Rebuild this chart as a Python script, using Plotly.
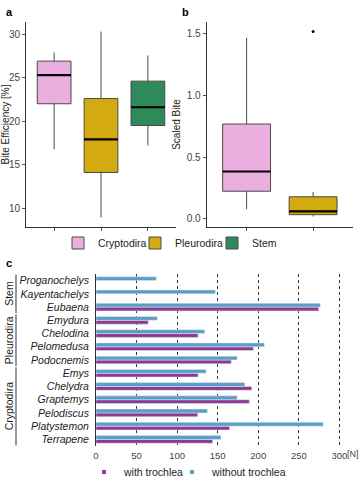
import plotly.graph_objects as go

# ---------------- data ----------------
groups = ["Cryptodira", "Pleurodira", "Stem"]
group_colors = ["#EAAEDF", "#D3AA10", "#2F8A59"]

# panel a: Bite Efficiency [%]
a_low = [16.75, 8.93, 17.2]
a_q1 = [22.0, 14.1, 19.5]
a_med = [25.3, 17.9, 21.6]
a_q3 = [26.9, 22.6, 24.6]
a_high = [27.9, 30.3, 27.55]

# panel b: Scaled Bite (Cryptodira, Pleurodira)
b_low = [0.08, 0.02]
b_q1 = [0.225, 0.035]
b_med = [0.385, 0.062]
b_q3 = [0.77, 0.18]
b_high = [1.47, 0.22]
b_outlier_group = [1]
b_outlier_value = [1.52]

# panel c: bite force [N]
taxa = ["Proganochelys", "Kayentachelys", "Eubaena",
        "Emydura", "Chelodina", "Pelomedusa", "Podocnemis",
        "Emys", "Chelydra", "Graptemys", "Pelodiscus", "Platystemon", "Terrapene"]
with_trochlea = [None, None, 274.5, 64.5, 125.8, 194, 166.7,
                 125.8, 192, 189, 125.4, 164.6, 143.8]
without_trochlea = [74.3, 147, 276.6, 75.6, 134, 207.5, 174,
                    135.6, 183.4, 174, 137.3, 280, 154]
clades = ["Stem", "Pleurodira", "Cryptodira"]
clade_sizes = [3, 4, 6]
x_ticks = [0, 50, 100, 150, 200, 250, 300]

FONT = "Liberation Sans, Arial, sans-serif"
W, H = 361, 480
PURPLE = "#8C3B90"
BLUE = "#5B9DC4"

fig = go.Figure()

def px_x(p):
    return p / W

def px_y(p):
    return 1 - p / H

# one legend box per entry so the entries can sit as close as in the reference
box_legends = ["legend", "legend3", "legend4"]
box_legend_x = [58, 135, 212]
bar_legends = ["legend2", "legend5"]
bar_legend_x = [84, 172]

# ---------- panel a ----------
for i, g in enumerate(groups):
    fig.add_trace(go.Box(
        x=[i], q1=[a_q1[i]], median=[a_med[i]], q3=[a_q3[i]],
        lowerfence=[a_low[i]], upperfence=[a_high[i]],
        width=0.72, fillcolor=group_colors[i],
        line=dict(color="#4a4a4a", width=1), whiskerwidth=0,
        name=g, showlegend=True, legend=box_legends[i],
        xaxis="x", yaxis="y", hoverinfo="skip"))
mx, my = [], []
for i, m in enumerate(a_med):
    mx += [i - 0.36, i + 0.36, None]
    my += [m, m, None]
fig.add_trace(go.Scatter(x=mx, y=my, mode="lines", line=dict(color="black", width=2.2),
                         showlegend=False, xaxis="x", yaxis="y", hoverinfo="skip"))

# ---------- panel b ----------
for i in range(2):
    fig.add_trace(go.Box(
        x=[i], q1=[b_q1[i]], median=[b_med[i]], q3=[b_q3[i]],
        lowerfence=[b_low[i]], upperfence=[b_high[i]],
        width=0.72, fillcolor=group_colors[i],
        line=dict(color="#4a4a4a", width=1), whiskerwidth=0,
        name=groups[i], showlegend=False,
        xaxis="x2", yaxis="y2", hoverinfo="skip"))
mx, my = [], []
for i, m in enumerate(b_med):
    mx += [i - 0.36, i + 0.36, None]
    my += [m, m, None]
fig.add_trace(go.Scatter(x=mx, y=my, mode="lines", line=dict(color="black", width=2.2),
                         showlegend=False, xaxis="x2", yaxis="y2", hoverinfo="skip"))
fig.add_trace(go.Scatter(x=b_outlier_group, y=b_outlier_value, mode="markers",
                         marker=dict(color="black", size=3), showlegend=False,
                         xaxis="x2", yaxis="y2", hoverinfo="skip"))

# ---------- panel c ----------
cat_order = list(reversed(taxa))
fig.add_trace(go.Bar(y=taxa, x=with_trochlea, orientation="h", name="with trochlea",
                     marker=dict(color=PURPLE), xaxis="x3", yaxis="y3", showlegend=False))
fig.add_trace(go.Bar(y=taxa, x=without_trochlea, orientation="h", name="without trochlea",
                     marker=dict(color=BLUE), xaxis="x3", yaxis="y3", showlegend=False))
for (nm, col), lg in zip([("with trochlea", PURPLE), ("without trochlea", BLUE)], bar_legends):
    fig.add_trace(go.Scatter(x=[None], y=[None], mode="markers", name=nm,
                             marker=dict(symbol="square", size=4, color=col),
                             xaxis="x3", yaxis="y3", legend=lg))

axis_common = dict(showline=True, linecolor="#333", linewidth=1, ticks="outside",
                   ticklen=3, tickcolor="#555", showgrid=False, zeroline=False,
                   tickfont=dict(size=10, color="#444", family=FONT))

layout_legends = {}
for lg, x in zip(box_legends, box_legend_x):
    layout_legends[lg] = dict(orientation="h", x=px_x(x), xanchor="left", y=px_y(243),
                              yanchor="middle", font=dict(size=10.5, color="#222"),
                              bgcolor="rgba(0,0,0,0)", itemwidth=30)
for lg, x in zip(bar_legends, bar_legend_x):
    layout_legends[lg] = dict(orientation="h", x=px_x(x), xanchor="left", y=px_y(472),
                              yanchor="middle", font=dict(size=10.5, color="#222"),
                              bgcolor="rgba(0,0,0,0)", itemwidth=30)

fig.update_layout(
    width=W, height=H, margin=dict(l=0, r=0, t=0, b=0, autoexpand=False),
    paper_bgcolor="white", plot_bgcolor="white",
    font=dict(family=FONT, size=10, color="#222"),
    barmode="group", bargap=0.42, bargroupgap=0,
    xaxis=dict(domain=[px_x(26), px_x(176)], anchor="y", range=[-0.6, 2.6],
               tickvals=[0, 1, 2], ticktext=["", "", ""], **axis_common),
    yaxis=dict(domain=[px_y(227), px_y(22)], anchor="x", range=[7.83, 31.4],
               tickvals=[10, 15, 20, 25, 30],
               title=dict(text="Bite Efficiency [%]", font=dict(size=10, color="#222"), standoff=4),
               **axis_common),
    xaxis2=dict(domain=[px_x(206.7), px_x(353)], anchor="y2", range=[-0.6, 1.6],
                tickvals=[0, 1], ticktext=["", ""], **axis_common),
    yaxis2=dict(domain=[px_y(227), px_y(22)], anchor="x2", range=[-0.065, 1.597],
                tickvals=[0, 0.5, 1.0, 1.5], tickformat=".1f",
                title=dict(text="Scaled Bite", font=dict(size=10, color="#222"), standoff=4),
                **axis_common),
    xaxis3=dict(domain=[px_x(96), px_x(354)], anchor="y3", range=[0, 318],
                tickvals=x_ticks, showgrid=True, gridcolor="#333", griddash="dot",
                gridwidth=1, showline=False, zeroline=False, ticks="",
                ticklabelstandoff=2,
                tickfont=dict(size=9.5, color="#444", family=FONT)),
    yaxis3=dict(domain=[px_y(446), px_y(274)], anchor="x3", type="category",
                categoryorder="array", categoryarray=cat_order,
                range=[-0.5, len(taxa) - 0.5],
                showline=True, linecolor="#333", linewidth=1, ticks="",
                ticklabelstandoff=4,
                tickfont=dict(size=10.5, color="#222", family=FONT, style="italic")),
    **layout_legends,
)

annotations = [
    dict(text="<b>a</b>", x=px_x(4), y=px_y(12), xref="paper", yref="paper",
         showarrow=False, xanchor="left", yanchor="middle", font=dict(size=11, color="black")),
    dict(text="<b>b</b>", x=px_x(180), y=px_y(12), xref="paper", yref="paper",
         showarrow=False, xanchor="left", yanchor="middle", font=dict(size=11, color="black")),
    dict(text="<b>c</b>", x=px_x(4), y=px_y(263), xref="paper", yref="paper",
         showarrow=False, xanchor="left", yanchor="middle", font=dict(size=11, color="black")),
    dict(text="[N]", x=px_x(360), y=px_y(454), xref="paper", yref="paper", showarrow=False,
         xanchor="right", yanchor="middle", borderpad=0, font=dict(size=9, color="#444")),
]
shapes = []
start = 0
n = len(taxa)
for clade, size in zip(clades, clade_sizes):
    top_idx = n - 1 - start
    bot_idx = n - 1 - (start + size - 1)
    y_top = top_idx + 0.45
    y_bot = bot_idx - 0.45
    shapes.append(dict(type="line", xref="paper", yref="y3", x0=px_x(16), x1=px_x(16),
                       y0=y_bot, y1=y_top, line=dict(color="#333", width=1)))
    annotations.append(dict(text=clade, x=px_x(9), y=(y_top + y_bot) / 2, xref="paper", yref="y3",
                            showarrow=False, textangle=-90, xanchor="center", yanchor="middle",
                            font=dict(size=10.5, color="#222")))
    start += size

fig.update_layout(annotations=annotations, shapes=shapes)
fig.write_html("out.html")
